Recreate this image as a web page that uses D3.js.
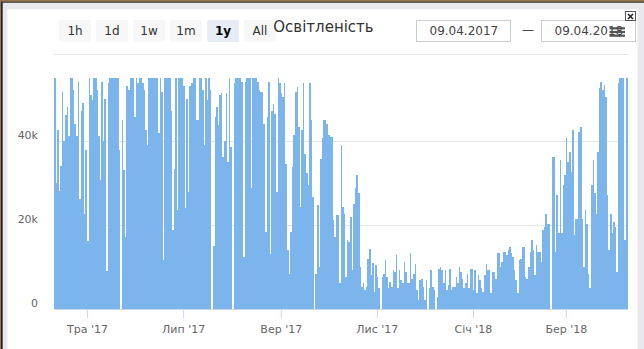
<!DOCTYPE html>
<html>
<head>
<meta charset="utf-8">
<script src="https://cdn.jsdelivr.net/npm/d3@7/dist/d3.min.js"></script>
<style>
  body { margin: 0; background: #fff; }
  svg { display: block; font-family: "DejaVu Sans", sans-serif; }
</style>
</head>
<body>
<svg width="644" height="349"></svg>
<script>
// daily illuminance, thousands of lux, starting 09.04.2017
var startDay = Date.UTC(2017, 3, 9);
var luxK = [
  55, 55, 30, 42.5, 28, 34, 51.6, 40, 46, 48,
  41, 55, 55, 52, 44, 41, 54, 26, 47, 49,
  22.6, 37.7, 16, 55, 50.8, 49.6, 55, 55, 52, 41,
  30.5, 54, 40, 50, 9, 53.6, 55, 55, 55, 55,
  55, 55, 37.7, 0, 45, 33, 17, 53, 52, 55,
  55, 55, 45.6, 55, 53.6, 55, 55, 53.6, 52, 42.5,
  39, 55, 55, 55, 55, 55, 55, 41.7, 55, 51.6,
  11.5, 55, 55, 55, 55, 47, 18.7, 33.3, 55, 23.4,
  55, 55, 55, 53, 24, 50, 27.8, 53, 53.6, 55,
  55, 44.9, 44.9, 55, 55, 52, 39, 55, 49.6, 55,
  52, 0, 15, 45.6, 48, 43.7, 50.8, 51.2, 36, 40,
  51.2, 35, 54.8, 38.5, 0, 53.6, 55, 55, 55, 55,
  54, 12.3, 54, 55, 55, 55, 28.6, 55, 55, 55,
  54, 52, 51.6, 51.6, 44, 18.3, 45.6, 54, 13, 47,
  48.8, 46.4, 27.8, 55, 53.6, 51.2, 50.4, 53.6, 34.5, 13.9,
  8.3, 18.3, 33.7, 41.3, 51.6, 52.8, 43.3, 24.2, 42.5, 53.6,
  36.9, 32.2, 29.4, 53.6, 44.9, 26.6, 0, 8.3, 24.6, 10,
  35.7, 40.5, 44.9, 44.9, 44, 41.3, 40.9, 40.9, 21, 17,
  22.2, 22.2, 6, 38.9, 24.2, 22.6, 7.5, 16.3, 15.9, 21.8,
  9.1, 25, 28.6, 31.7, 27.4, 9.9, 5.2, 6, 4.4, 5.2,
  11.9, 14.1, 7.9, 10.9, 4, 10.3, 7.5, 4.8, 0, 7.5,
  8.3, 11.5, 7.5, 4.8, 6.3, 5.2, 9.1, 8.7, 12.7, 4.8,
  9.1, 6.7, 6, 11.1, 8.7, 6, 6, 13.1, 7.1, 8.3,
  10.7, 4.4, 2, 6.7, 7.1, 5.2, 2, 6.7, 0, 4.8,
  9.1, 5.2, 4.4, 0, 2.8, 9.5, 9.9, 9.1, 6, 9.1,
  4.4, 5.6, 9.5, 4.4, 5.2, 5.2, 7.5, 6, 9.9, 8.7,
  7.1, 4.8, 6, 8.3, 4.8, 9.5, 9.5, 4.4, 9.1, 3.6,
  7.9, 6.7, 4.8, 4, 7.9, 10.7, 9.1, 9.1, 3.6, 8.7,
  8.7, 7.1, 13.1, 13.1, 9.9, 11.1, 13.5, 13.5, 12.7, 13.9,
  14.7, 13.1, 12.3, 9.1, 6.7, 3.6, 11.5, 11.9, 14.7, 14.7,
  7.5, 7.1, 9.9, 13.5, 16.3, 13.9, 7.9, 15.1, 13.5, 13.5,
  11.1, 18.7, 19.5, 22.6, 20.2, 20.2, 0, 36.1, 36.1, 13.5,
  27, 17.9, 35.3, 17.9, 29.4, 31.7, 40.5, 34.9, 37.3, 32.5,
  42.5, 17.5, 21.4, 21.4, 42.1, 43.3, 21.4, 9.9, 23.4, 20.2,
  8.3, 4.8, 29.4, 35.3, 27.4, 22.6, 37.3, 52.4, 54, 52,
  53.2, 50.4, 27, 13.9, 22.6, 17.9, 20.6, 19.5, 8.7, 53.6,
  54.8, 55, 55, 16.3, 55, 55
];
var monthTicks = [Date.UTC(2017,4,1), Date.UTC(2017,6,1), Date.UTC(2017,8,1),
                  Date.UTC(2017,10,1), Date.UTC(2018,0,1), Date.UTC(2018,2,1)];
var monthLabels = ["Тра '17", "Лип '17", "Вер '17", "Лис '17", "Січ '18", "Бер '18"];
var yTicks = [0, 20, 40];
var yLabels = ["0", "20k", "40k"];
var rangeButtons = ["1h", "1d", "1w", "1m", "1y", "All"];
var selectedRange = "1y";
var dateFrom = "09.04.2017", dateTo = "09.04.2018";
var chartTitle = "Освітленість";

var DAY = 86400000;
var svg = d3.select("svg");
var plot = {left: 54, right: 628, top: 77.5, bottom: 308.5};

// popup frame
svg.append("rect").attr("width", 644).attr("height", 349).attr("fill", "#9a7650");
svg.append("rect").attr("x", 1).attr("y", 1.7).attr("width", 643).attr("height", 348).attr("fill", "#262626");
svg.append("rect").attr("x", 2.7).attr("y", 2.7).attr("width", 642).attr("height", 347).attr("fill", "#e8e8ed");
svg.append("rect").attr("x", 7.3).attr("y", 9.3).attr("width", 630.2).attr("height", 340).attr("fill", "#fff");

var x = d3.scaleUtc()
  .domain([startDay, startDay + 366 * DAY])
  .range([52.4, 52.4 + 1.575 * 366]);
var y = d3.scaleLinear().domain([0, 55]).range([plot.bottom, plot.top]);

svg.append("clipPath").attr("id", "clip")
  .append("rect").attr("x", plot.left).attr("y", 0)
  .attr("width", plot.right - plot.left).attr("height", plot.bottom + 1);

// gridlines
svg.append("g").selectAll("line")
  .data(yTicks.filter(function (t) { return t > 0; }))
  .enter().append("line")
  .attr("x1", plot.left).attr("x2", plot.right)
  .attr("y1", function (d) { return Math.round(y(d)) + 0.5; })
  .attr("y2", function (d) { return Math.round(y(d)) + 0.5; })
  .attr("stroke", "#e6e6e6");

// columns, snapped to whole pixels so neighbours tile without seams
function colLeft(i) { return Math.round(x(startDay + i * DAY)); }
svg.append("g").attr("clip-path", "url(#clip)").attr("shape-rendering", "crispEdges")
  .selectAll("rect").data(luxK).enter().append("rect")
  .attr("x", function (d, i) { return colLeft(i); })
  .attr("width", function (d, i) { return colLeft(i + 1) - colLeft(i); })
  .attr("y", function (d) { return y(d); })
  .attr("height", function (d) { return y(0) - y(d); })
  .attr("fill", "#7cb5ec");

// x axis
var xAxis = svg.append("g").attr("transform", "translate(0," + (plot.bottom + 0.5) + ")")
  .call(d3.axisBottom(x).tickValues(monthTicks).tickSize(9).tickPadding(6)
    .tickFormat(function (d, i) { return monthLabels[i]; }));
xAxis.select(".domain").attr("d", "M" + plot.left + ",0.5H" + plot.right).attr("stroke", "#ccd6eb");
xAxis.selectAll(".tick line").attr("stroke", "#ccd6eb");
xAxis.selectAll(".tick text").attr("fill", "#666").attr("font-size", 11)
  .attr("font-family", "DejaVu Sans").attr("dy", "0.78em");

// y labels
svg.append("g").selectAll("text").data(yTicks).enter().append("text")
  .attr("x", 38).attr("y", function (d) { return y(d) - 1.5; })
  .attr("text-anchor", "end").attr("font-size", 11).attr("fill", "#666")
  .text(function (d, i) { return yLabels[i]; });

// separator above plot
svg.append("line").attr("x1", plot.left).attr("x2", plot.right)
  .attr("y1", 54.5).attr("y2", 54.5).attr("stroke", "#e6e6e6");

// range selector
var btn = svg.append("g").selectAll("g").data(rangeButtons).enter().append("g")
  .attr("transform", function (d, i) { return "translate(" + (59 + i * 37) + ",20)"; });
btn.append("rect").attr("width", 32).attr("height", 22).attr("rx", 2)
  .attr("fill", function (d) { return d === selectedRange ? "#e6ebf5" : "#f7f7f7"; });
btn.append("text").attr("x", 16).attr("y", 14.5).attr("text-anchor", "middle")
  .attr("font-size", 12)
  .attr("font-weight", function (d) { return d === selectedRange ? "bold" : "normal"; })
  .attr("fill", function (d) { return d === selectedRange ? "#000" : "#333"; })
  .text(function (d) { return d; });

// title
svg.append("text").attr("x", 323.5).attr("y", 31.5).attr("text-anchor", "middle")
  .attr("font-size", 15).attr("fill", "#333").text(chartTitle);

// date inputs
[[416.5, dateFrom], [541.5, dateTo]].forEach(function (b) {
  svg.append("rect").attr("x", b[0]).attr("y", 20.5).attr("width", 94).attr("height", 21)
    .attr("fill", "#fff").attr("stroke", "#cccccc");
  svg.append("text").attr("x", b[0] + 13).attr("y", 34.5).attr("font-size", 12)
    .attr("fill", "#444").text(b[1]);
});
svg.append("text").attr("x", 528).attr("y", 34).attr("text-anchor", "middle")
  .attr("font-size", 12).attr("fill", "#444").text("—");

// export menu icon
svg.append("g").selectAll("line").data([28.3, 32, 35.7]).enter().append("line")
  .attr("x1", 609.5).attr("x2", 625).attr("y1", function (d) { return d; }).attr("y2", function (d) { return d; })
  .attr("stroke", "#555").attr("stroke-width", 2.2);

// close button
svg.append("rect").attr("x", 625.5).attr("y", 11.5).attr("width", 10).attr("height", 9)
  .attr("fill", "#fff").attr("stroke", "#555");
svg.append("path").attr("d", "M628,14L633,19M633,14L628,19").attr("stroke", "#222").attr("stroke-width", 1.6);
</script>
</body>
</html>
